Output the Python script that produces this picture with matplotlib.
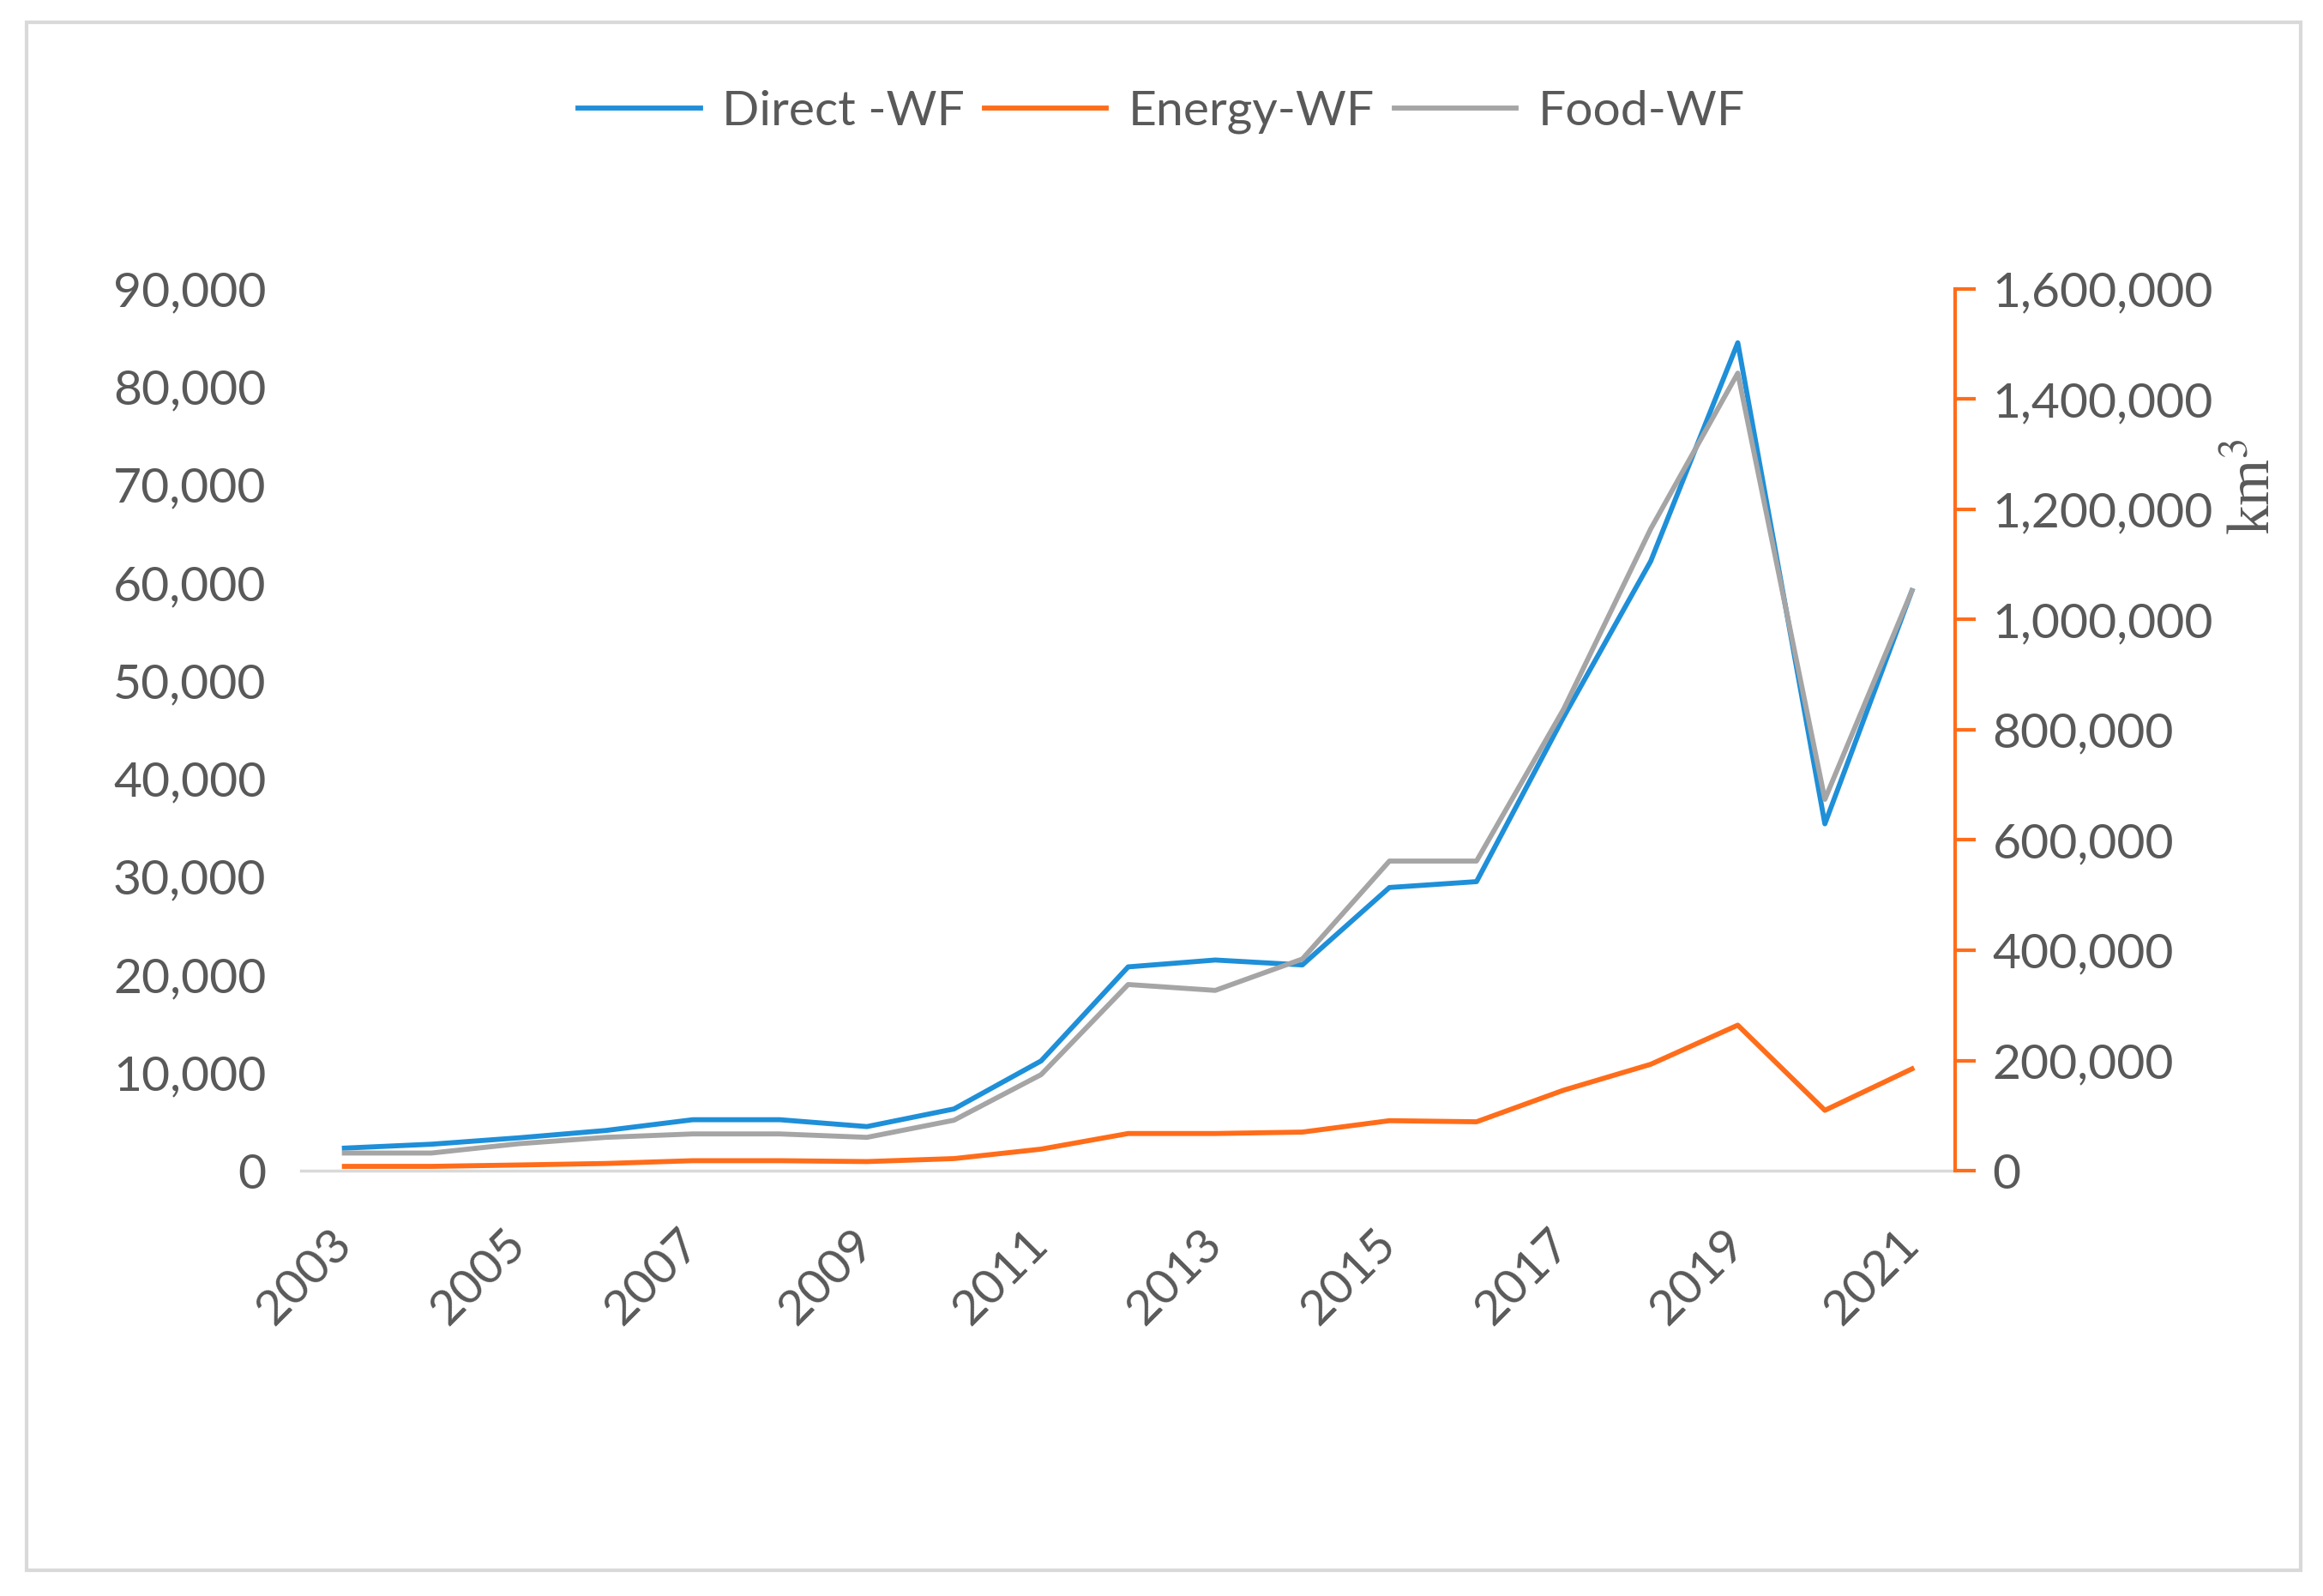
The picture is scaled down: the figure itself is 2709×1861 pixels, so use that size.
import matplotlib
matplotlib.use("Agg")
import matplotlib.pyplot as plt
from matplotlib.patches import Rectangle
from matplotlib.ticker import FuncFormatter

# values
years = list(range(2003, 2022))
direct_wf = [2300, 2700, 3350, 4100, 5200, 5200, 4500, 6300, 11200, 20800,
             21500, 21000, 28900, 29500, 46300, 62200, 84500, 35400, 59200]
food_wf = [1800, 1800, 2750, 3400, 3750, 3750, 3400, 5150, 9800, 19000,
           18400, 21600, 31600, 31600, 47100, 65500, 81400, 37900, 59200]
# energy series sits on the secondary (km3) axis
energy_wf = [7800, 7800, 10300, 13000, 18100, 18100, 16500, 21900, 39100, 67400,
             67400, 70000, 90700, 88700, 146000, 193000, 264000, 109500, 184700]
left_ticks = list(range(0, 90001, 10000))
right_ticks = list(range(0, 1600001, 200000))
xtick_years = years[::2]

BLUE = "#1e8fd8"
ORANGE = "#ff6d1a"
GRAY = "#a5a5a5"
TXT = "#595959"

plt.rcParams["font.family"] = ["Lato", "DejaVu Sans"]

fig = plt.figure(figsize=(27.09, 18.61), dpi=100)
fig.patches.append(Rectangle((0.0115, 0.016), 0.979, 0.970, transform=fig.transFigure,
                             fill=False, edgecolor="#d9d9d9", linewidth=3))

ax = fig.add_axes([0.1295, 0.2665, 0.7123, 0.5525])
ax2 = ax.twinx()

l1, = ax.plot(years, direct_wf, color=BLUE, lw=4.2, label="Direct -WF")
l3, = ax.plot(years, food_wf, color=GRAY, lw=4.2, label="Food-WF")
l2, = ax2.plot(years, energy_wf, color=ORANGE, lw=4.2, label="Energy-WF")

ax.set_xlim(2002.5, 2021.5)
ax.set_ylim(0, 90000)
ax2.set_ylim(0, 1600000)
ax.set_yticks(left_ticks)
ax2.set_yticks(right_ticks)
fmt = FuncFormatter(lambda v, p: f"{int(v):,}")
ax.yaxis.set_major_formatter(fmt)
ax2.yaxis.set_major_formatter(fmt)

for s in ("left", "top", "right"):
    ax.spines[s].set_visible(False)
for s in ("left", "top", "bottom"):
    ax2.spines[s].set_visible(False)
ax.spines["bottom"].set_color("#d9d9d9")
ax.spines["bottom"].set_linewidth(2.5)
ax2.spines["right"].set_color(ORANGE)
ax2.spines["right"].set_linewidth(3)

ax.tick_params(axis="y", length=0, pad=29, labelsize=41, labelcolor=TXT)
ax.tick_params(axis="x", length=0, pad=56, labelsize=41, labelcolor=TXT)
ax2.tick_params(axis="y", length=17, width=3, color=ORANGE, pad=14,
                labelsize=41, labelcolor=TXT)

ax.set_xticks(xtick_years)
ax.set_xticklabels([str(y) for y in xtick_years], rotation=45, ha="right",
                   va="center", rotation_mode="anchor")

fig.text(0.971, 0.695, "km$^3$", rotation=90, ha="center", va="center",
         fontsize=50, family="Liberation Serif", color=TXT,
         math_fontfamily="stix")

fig.legend(handles=[l1, l2, l3], loc="center", bbox_to_anchor=(0.5, 0.930),
           ncol=3, frameon=False, fontsize=41, labelcolor=TXT,
           handlelength=2.5, handletextpad=0.45, columnspacing=0.4)

fig.savefig("out.png", dpi=100)
